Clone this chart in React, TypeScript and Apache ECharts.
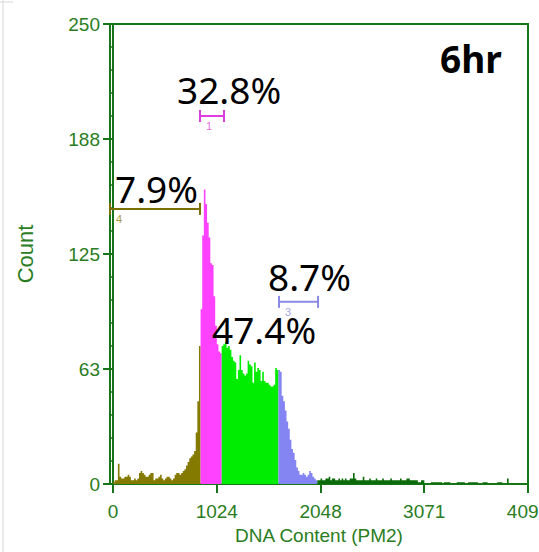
import React, { useEffect, useRef } from "react";
import * as echarts from "echarts";

// Histogram bin width in channels, and first channel of each gated region
const BIN_WIDTH = 16;
const regionStarts = [0, 864, 1072, 1632, 2016];
const regionColors = ["#857a00", "#ff42ff", "#00ec00", "#8484f2", "#0c6c0c"];

// Counts per bin (16 channels each)
const oliveCounts = [
  1, 2, 2, 11, 4, 3, 3, 4, 4, 5,
  4, 2, 2, 3, 2, 3, 6, 7, 6, 5,
  4, 4, 5, 6, 6, 2, 3, 3, 4, 5,
  3, 2, 3, 4, 4, 3, 2, 3, 5, 6,
  6, 5, 6, 7, 8, 10, 12, 14, 15, 16,
  18, 28, 45, 75,
];
const magentaCounts = [95, 135, 160, 152, 142, 134, 120, 119, 102, 86, 76, 72, 71];
const greenCounts = [
  75, 76, 77, 74, 75, 73, 69, 67, 66, 57,
  62, 70, 62, 60, 59, 60, 67, 65, 64, 55,
  66, 61, 63, 62, 56, 61, 56, 55, 55, 54,
  53, 53, 54, 63, 62,
];
const blueCounts = [
  62, 61, 48, 45, 40, 34, 30, 24, 19, 17,
  13, 9, 7, 5, 5, 6, 5, 4, 5, 7,
  6, 4, 3, 2,
];
const tailCounts = [
  2, 2, 3, 2, 2, 3, 3, 4, 2, 3,
  3, 2, 2, 3, 2, 3, 2, 3, 2, 2,
  3, 3, 6, 3, 2, 2, 2, 2, 4, 2,
  2, 2, 3, 2, 2, 2, 3, 2, 2, 2,
  3, 2, 2, 2, 2, 3, 2, 2, 2, 2,
  2, 3, 2, 2, 2, 3, 3, 2, 2, 2,
  2, 2, 1, 1, 2, 2, 0, 0, 0, 0,
  1, 1, 1, 1, 1, 1, 1, 0, 1, 1,
  1, 1, 0, 0, 0, 0, 1, 1, 1, 1,
  1, 0, 0, 1, 1, 1, 1, 1, 1, 0,
  0, 0, 1, 1, 1, 0, 0, 0, 0, 0,
  0, 1, 1, 1, 0, 0, 0, 3, 0, 0,
  0, 0, 0, 0, 0, 0, 0, 0, 0, 0,
];
const regionCounts = [oliveCounts, magentaCounts, greenCounts, blueCounts, tailCounts];

// Gate markers
const gateNames = ["4", "1", "3"];
const gateStarts = [-30, 858, 1638];
const gateEnds = [858, 1095, 2023];
const gateLevels = [149.5, 200, 99];
const gateColors = ["#7a7000", "#e03ee0", "#8a8ae6"];
const gateLabelColors = ["#a89a3a", "#e070e0", "#a6a6ea"];

// Percent annotations
const percentTexts = ["32.8%", "7.9%", "8.7%", "47.4%"];
const titleText = "6hr";

// Axis ticks
const xTickValues = [0, 1024, 2048, 3071, 4095];
const yTickValues = [0, 62.5, 125, 187.5, 250];

const axisGreen = "#177517";
const labelGreen = "#2a7d22";

function buildOption(): echarts.EChartsOption {
  const histSeries = regionCounts.map((counts, r) => {
    const start = regionStarts[r];
    const data: number[][] = counts.map((v, i) => [start + i * BIN_WIDTH, v]);
    data.push([start + counts.length * BIN_WIDTH, counts[counts.length - 1]]);
    return {
      type: "line",
      step: "end",
      data,
      showSymbol: false,
      symbol: "none",
      lineStyle: { width: 0 },
      areaStyle: { color: regionColors[r], opacity: 1 },
      z: 2,
      silent: true,
    } as any;
  });

  const gateSeries: any = {
    type: "custom",
    z: 5,
    silent: true,
    clip: false,
    data: gateNames.map((_, i) => [gateStarts[i], gateEnds[i], gateLevels[i], i]),
    encode: { x: [0, 1], y: 2 },
    renderItem: (_params: any, api: any) => {
      const i = api.value(3);
      const a = api.coord([api.value(0), api.value(2)]);
      const b = api.coord([api.value(1), api.value(2)]);
      const color = gateColors[i];
      return {
        type: "group",
        children: [
          { type: "line", shape: { x1: a[0], y1: a[1], x2: b[0], y2: b[1] }, style: { stroke: color, lineWidth: 2 } },
          { type: "line", shape: { x1: a[0], y1: a[1] - 6, x2: a[0], y2: a[1] + 6 }, style: { stroke: color, lineWidth: 2 } },
          { type: "line", shape: { x1: b[0], y1: b[1] - 6, x2: b[0], y2: b[1] + 6 }, style: { stroke: color, lineWidth: 2 } },
          {
            type: "text",
            x: a[0] + 9,
            y: a[1] + 10,
            style: {
              text: gateNames[i],
              fill: gateLabelColors[i],
              fontSize: 11,
              fontFamily: "Liberation Sans, Arial, sans-serif",
              align: "center",
              verticalAlign: "middle",
            },
          },
        ],
      };
    },
  };

  const bigFont = "Noto Sans, Open Sans, sans-serif";
  const pctPos = [
    [177, 89],
    [115, 188],
    [268, 276],
    [212, 329],
  ];

  return {
    animation: false,
    backgroundColor: "#ffffff",
    grid: {
      left: 110,
      right: 11,
      top: 24,
      bottom: 68,
      show: true,
      borderColor: axisGreen,
      borderWidth: 2,
      backgroundColor: "transparent",
      containLabel: false,
      outerBoundsMode: "none",
    } as any,
    xAxis: {
      type: "value",
      min: -30,
      max: 4095,
      axisLine: { show: true, lineStyle: { color: axisGreen, width: 2 } },
      axisTick: { show: true, customValues: xTickValues, length: 9, lineStyle: { color: axisGreen, width: 2 } },
      axisLabel: {
        customValues: xTickValues,
        color: labelGreen,
        fontSize: 19,
        fontFamily: "Liberation Sans, Arial, sans-serif",
        margin: 18,
        hideOverlap: false,
        formatter: (v: number) => String(v),
      },
      splitLine: { show: false },
      name: "DNA Content (PM2)",
      nameLocation: "middle",
      nameGap: 42,
      nameTextStyle: { color: labelGreen, fontSize: 19, fontFamily: "Liberation Sans, Arial, sans-serif" },
    } as any,
    yAxis: {
      type: "value",
      min: 0,
      max: 250,
      interval: yTickValues[1],
      axisLine: { show: true, lineStyle: { color: axisGreen, width: 2 } },
      axisTick: { show: true, length: 10, lineStyle: { color: axisGreen, width: 2 } },
      minorTick: { show: true, splitNumber: 5, length: 4, lineStyle: { color: axisGreen, width: 1.5 } },
      axisLabel: {
        color: labelGreen,
        fontSize: 19,
        fontFamily: "Liberation Sans, Arial, sans-serif",
        margin: 10,
        formatter: (v: number) => String(Math.round(v)),
      },
      splitLine: { show: false },
      name: "Count",
      nameLocation: "middle",
      nameGap: 74,
      nameTextStyle: { color: labelGreen, fontSize: 22, fontFamily: "Liberation Sans, Arial, sans-serif" },
    },
    graphic: [
      { type: "line", shape: { x1: 3, y1: 0, x2: 3, y2: 552 }, style: { stroke: "#d6d6d6", lineWidth: 1 }, silent: true },
      { type: "line", shape: { x1: 0, y1: 2, x2: 13, y2: 2 }, style: { stroke: "#d6d6d6", lineWidth: 1 }, silent: true },
      ...percentTexts.map((t, i) => ({
        type: "text",
        x: pctPos[i][0],
        y: pctPos[i][1],
        z: 10,
        silent: true,
        style: { text: t, fill: "#000", fontSize: 37, fontFamily: bigFont, align: "left", verticalAlign: "middle" },
      })),
      {
        type: "text",
        x: 440,
        y: 58,
        z: 10,
        silent: true,
        style: { text: titleText, fill: "#000", fontSize: 37, fontWeight: "bold", fontFamily: bigFont, align: "left", verticalAlign: "middle" },
      },
    ] as any,
    series: [...histSeries, gateSeries],
  };
}

export default function App() {
  const ref = useRef<HTMLDivElement>(null);
  useEffect(() => {
    if (!ref.current) return;
    const chart = echarts.init(ref.current, null, { renderer: "svg" });
    chart.setOption(buildOption());
    return () => chart.dispose();
  }, []);
  return (
    <div
      ref={ref}
      style={{ position: "fixed", left: 0, top: 0, width: 539, height: 552, background: "#fff" }}
    />
  );
}
